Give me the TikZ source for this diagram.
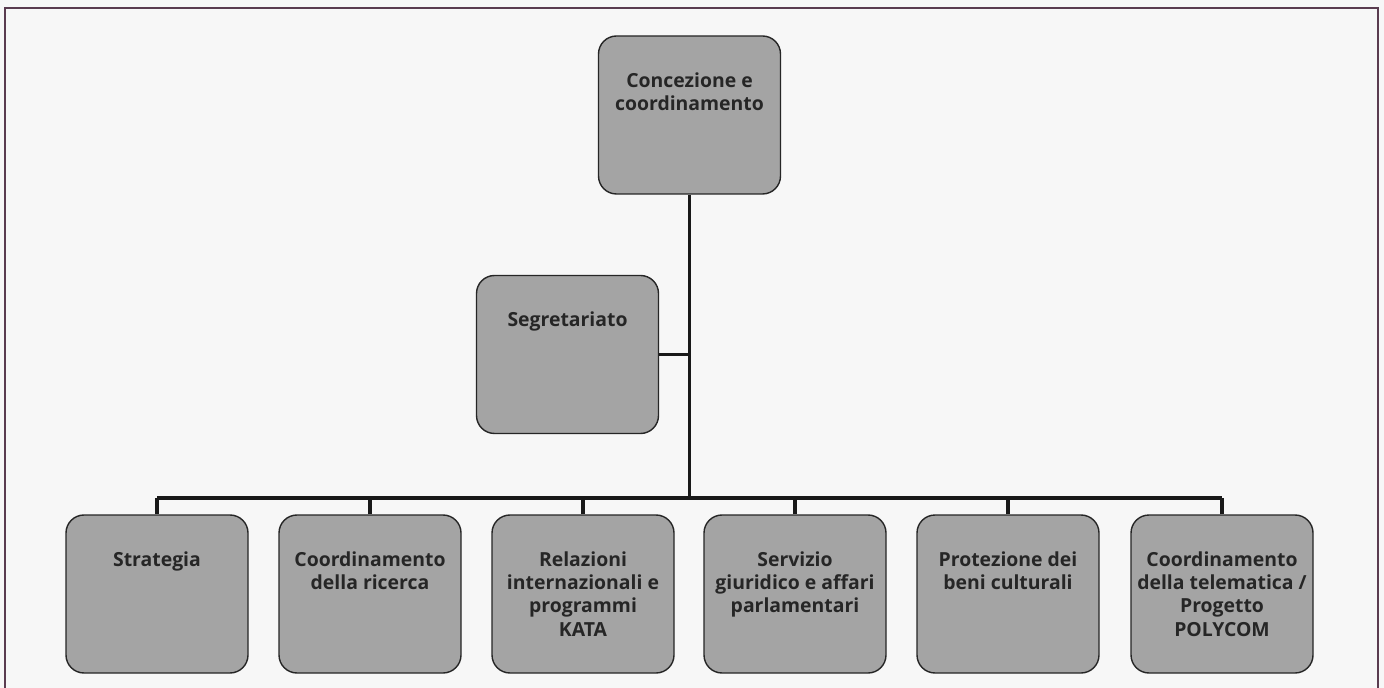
\documentclass[tikz,border=0pt]{standalone}
\usepackage{fontspec}
\setmainfont{Open Sans}
\usetikzlibrary{positioning}
\definecolor{boxgrey}{RGB}{164,164,164}
\definecolor{pageframe}{RGB}{90,60,80}
\tikzstyle{unit}=[draw=black!85,fill=boxgrey,rounded corners=9pt,minimum width=91pt,minimum height=79pt,line width=0.7pt]
\tikzstyle{unittext}=[anchor=north,align=center,inner sep=0pt,text=black!85,font=\bfseries\fontsize{9.7}{11.6}\selectfont]
\tikzstyle{link}=[line width=1.6pt,black!90]

\begin{document}
\begin{tikzpicture}[x=0.5pt,y=-0.5pt]
  \useasboundingbox (0,0) rectangle (1384,688);
  \fill[black!3] (0,0) rectangle (1384,688);
  \draw[pageframe,line width=0.6pt] (5,700) -- (5,8) -- (1378,8) -- (1378,700);
  % top of the chart
  \node[unit] (concezione) at (689.5,115) {};
  \node[unittext] at ([yshift=-18.5pt]concezione.north) {Concezione e\\coordinamento};
  \node[unit] (segretariato) at (567.5,354.5) {};
  \node[unittext] at ([yshift=-18.5pt]segretariato.north) {Segretariato};
  % the six sections
  \foreach \place/\name/\txt in {{(157,594)/strategia/{Strategia}},
                                 {(370,594)/ricerca/{Coordinamento\\della ricerca}},
                                 {(583,594)/kata/{Relazioni\\internazionali e\\programmi\\KATA}},
                                 {(795,594)/giuridico/{Servizio\\giuridico e affari\\parlamentari}},
                                 {(1008,594)/beni/{Protezione dei\\beni culturali}},
                                 {(1222,594)/polycom/{Coordinamento\\della telematica /\\Progetto\\POLYCOM}}}
  {
    \node[unit] (\name) at \place {};
    \node[unittext] at ([yshift=-18.5pt]\name.north) {\txt};
  }
  \coordinate (bus) at (690,498);
  \draw[link] (concezione.south) -- (concezione.south |- bus);
  \draw[link] (segretariato.east) -- (segretariato.east -| concezione.south);
  \draw[link] (strategia.north |- bus) -- (polycom.north |- bus);
  \foreach \name in {strategia,ricerca,kata,giuridico,beni,polycom}
    \draw[link] (\name.north) -- (\name.north |- bus);
\end{tikzpicture}
\end{document}
